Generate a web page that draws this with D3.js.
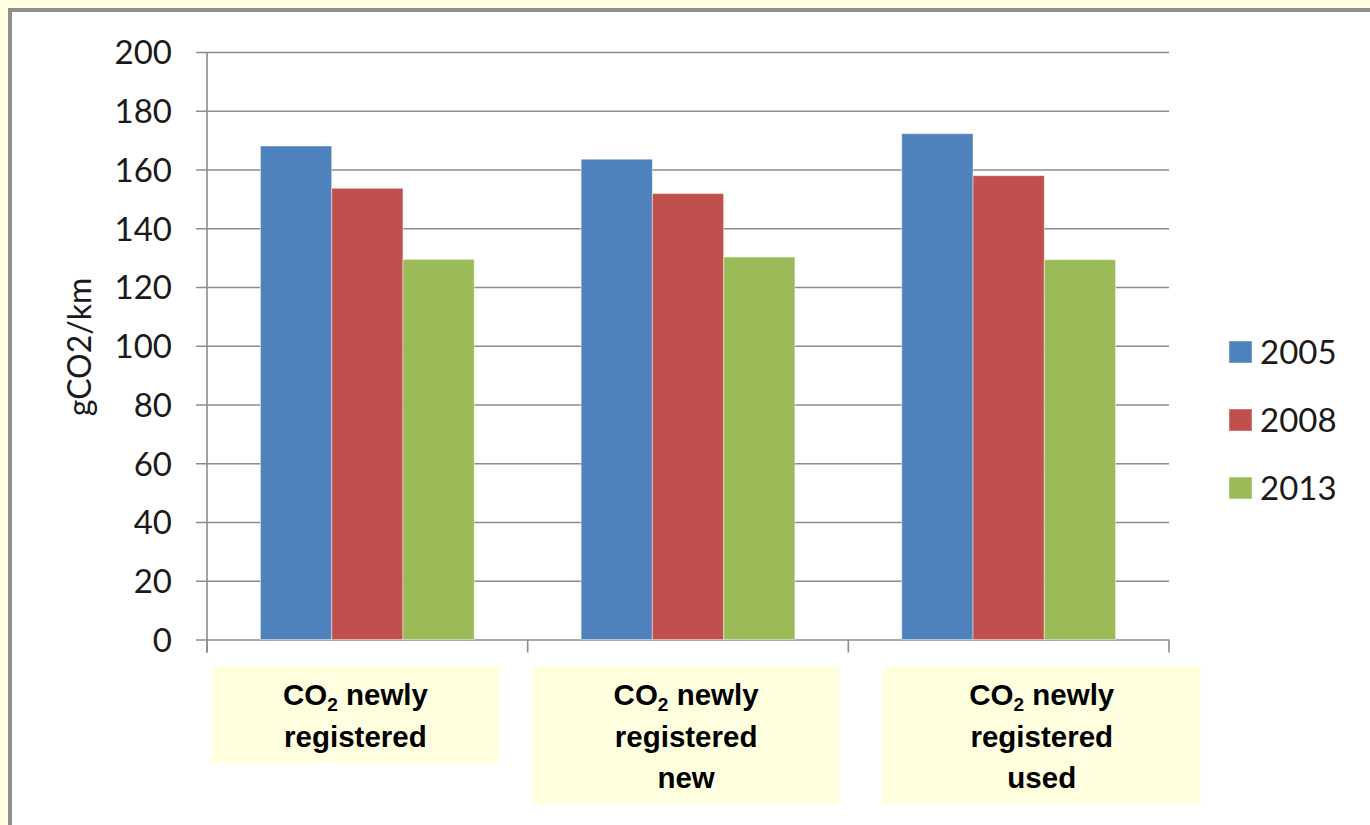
<!DOCTYPE html>
<html>
<head>
<meta charset="utf-8">
<script src="https://cdn.jsdelivr.net/npm/d3@7"></script>
<style>
  html, body { margin: 0; padding: 0; background: #FFFFE0; }
  svg { display: block; }
</style>
</head>
<body>
<svg id="chart" width="1370" height="825"></svg>
<script>
// Average CO2 emissions of registered cars (gCO2/km)
const categories = ["CO₂ newly registered", "CO₂ newly registered new", "CO₂ newly registered used"];
const categoryLines = [
  ["CO₂ newly", "registered"],
  ["CO₂ newly", "registered", "new"],
  ["CO₂ newly", "registered", "used"]
];
const seriesNames = ["2005", "2008", "2013"];
const values2005 = [168, 163.5, 172.2];
const values2008 = [153.6, 151.8, 157.9];
const values2013 = [129.4, 130.2, 129.3];
const yTicks = [0, 20, 40, 60, 80, 100, 120, 140, 160, 180, 200];
const yTitle = "gCO2/km";

const seriesValues = [values2005, values2008, values2013];
const colors = ["#4F81BD", "#C0504D", "#9BBB59"];

const svg = d3.select("#chart");

// outer frame: white panel with grey border
svg.append("rect")
  .attr("x", 10).attr("y", 10)
  .attr("width", 1400).attr("height", 900)
  .attr("fill", "#ffffff")
  .attr("stroke", "#8f8f8f")
  .attr("stroke-width", 4);

const plotLeft = 207, plotRight = 1169, plotTop = 52, plotBottom = 639.5;

const y = d3.scaleLinear().domain([0, 200]).range([plotBottom, plotTop]);
const x0 = d3.scaleBand().domain(categories).range([plotLeft, plotRight])
  .paddingInner(1 / 3).paddingOuter(1 / 6);
const x1 = d3.scaleBand().domain(seriesNames).range([0, x0.bandwidth()]);

const gridColor = "#8c8c8c";

// horizontal gridlines with tick stubs
const yAxis = d3.axisLeft(y).tickValues(yTicks).tickSize(-(plotRight - plotLeft)).tickPadding(35);
const gy = svg.append("g").attr("transform", `translate(${plotLeft},0)`).call(yAxis);
gy.select(".domain").remove();
gy.selectAll(".tick line")
  .attr("x1", -11)
  .attr("stroke", gridColor).attr("stroke-width", 1.6);
gy.selectAll(".tick text")
  .attr("font-family", "Lato, 'Open Sans', sans-serif")
  .attr("font-size", 33)
  .attr("fill", "#1a1a1a")
  .attr("dy", "0.36em");

// vertical axis line
svg.append("line")
  .attr("x1", plotLeft).attr("x2", plotLeft)
  .attr("y1", y(200)).attr("y2", plotBottom + 13)
  .attr("stroke", gridColor).attr("stroke-width", 1.6);

// category separators below the baseline
const sepPositions = categories.map(c => x0(c) - x0.step() * x0.paddingInner() / 2).concat([plotRight]);
svg.selectAll(".sep").data(sepPositions).enter().append("line")
  .attr("x1", d => d).attr("x2", d => d)
  .attr("y1", plotBottom).attr("y2", plotBottom + 13)
  .attr("stroke", gridColor).attr("stroke-width", 1.6);

// bars
const groups = svg.selectAll(".grp").data(categories).enter().append("g")
  .attr("transform", c => `translate(${x0(c)},0)`);
groups.selectAll("rect")
  .data((c, i) => seriesNames.map((s, j) => ({ s, j, v: seriesValues[j][i] })))
  .enter().append("rect")
  .attr("x", d => x1(d.s))
  .attr("y", d => y(d.v))
  .attr("width", x1.bandwidth())
  .attr("height", d => y(0) - y(d.v))
  .attr("fill", d => colors[d.j])
  .attr("stroke", "rgba(255,255,255,0.45)")
  .attr("stroke-width", 1);

// y-axis title
svg.append("text")
  .attr("transform", "translate(91,347) rotate(-90)")
  .attr("text-anchor", "middle")
  .attr("font-family", "Lato, 'Open Sans', sans-serif")
  .attr("font-size", 32)
  .attr("fill", "#1a1a1a")
  .text(yTitle);

// legend
const legend = svg.append("g");
seriesNames.forEach((s, i) => {
  const ly = 352 + i * 68;
  legend.append("rect")
    .attr("x", 1229).attr("y", ly - 11)
    .attr("width", 23).attr("height", 22)
    .attr("fill", colors[i])
    .attr("stroke", "rgba(255,255,255,0.45)");
  legend.append("text")
    .attr("x", 1260).attr("y", ly)
    .attr("dy", "0.36em")
    .attr("font-family", "Lato, 'Open Sans', sans-serif")
    .attr("font-size", 33)
    .attr("fill", "#1a1a1a")
    .text(s);
});

// category label boxes (offset from band start, width)
const labelBoxes = [
  { dx: -49, w: 288 },
  { dx: -49, w: 308 },
  { dx: -19, w: 318 }
];
const boxTop = 666, lineH = 41.5;
categories.forEach((c, i) => {
  const lines = categoryLines[i];
  const bx = x0(c) + labelBoxes[i].dx;
  const bw = labelBoxes[i].w;
  svg.append("rect")
    .attr("x", bx).attr("y", boxTop)
    .attr("width", bw).attr("height", 14 + lineH * lines.length)
    .attr("fill", "#FFFFE0");
  const cx = bx + bw / 2;
  lines.forEach((ln, k) => {
    const t = svg.append("text")
      .attr("x", cx).attr("y", boxTop + 39 + k * lineH)
      .attr("text-anchor", "middle")
      .attr("font-family", "'Liberation Sans', Arial, sans-serif")
      .attr("font-weight", "bold")
      .attr("font-size", 29.5)
      .attr("fill", "#000");
    const parts = ln.split("₂");
    if (parts.length > 1) {
      t.append("tspan").text(parts[0]);
      t.append("tspan").attr("font-size", 19).attr("dy", 6).text("2");
      t.append("tspan").attr("dy", -6).text(parts[1]);
    } else {
      t.text(ln);
    }
  });
});
</script>
</body>
</html>
